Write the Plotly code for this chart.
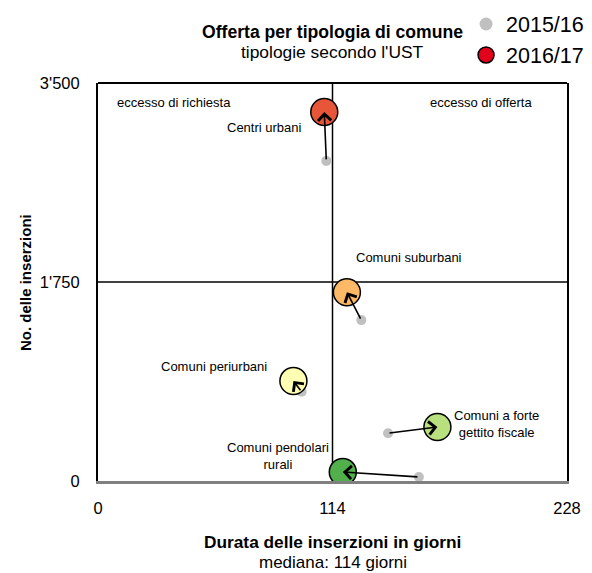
import plotly.graph_objects as go

# dati: durata mediana (giorni) e numero di inserzioni
tipologie = ["Centri urbani", "Comuni suburbani", "Comuni periurbani",
             "Comuni a forte<br>gettito fiscale", "Comuni pendolari<br>rurali"]
durata_1516 = [111, 128, 99, 141, 156]
inserz_1516 = [2815, 1415, 785, 420, 35]
durata_1617 = [110, 121, 95, 165, 119]
inserz_1617 = [3245, 1660, 880, 475, 80]
colori = ["#E8563A", "#FDB966", "#FFFFB3", "#B8E07F", "#52B04C"]

mediana_durata = 114
mediana_inserz = 1750
x_ticks = [0, 114, 228]
y_ticks = [0, 1750, 3500]
y_ticktext = ["0", "1'750", "3'500"]

# posizione delle etichette rispetto al punto 2016/17 (pixel)
label_pos = [(-20, -15, "right"), (62, 35, "center"), (-24, 14, "right"),
             (15, 3, "left"), (-12, 16, "right")]

FONT = "Liberation Sans, Arial, sans-serif"

fig = go.Figure()

# mediane
fig.add_shape(type="line", x0=mediana_durata, x1=mediana_durata, y0=0, y1=3500,
              xref="x", yref="y", line=dict(color="black", width=1.5), layer="below")
fig.add_shape(type="line", x0=0, x1=228, y0=mediana_inserz, y1=mediana_inserz,
              xref="x", yref="y", line=dict(color="black", width=1.5), layer="below")
# bordo superiore
fig.add_shape(type="line", x0=0, x1=1, y0=1, y1=1, xref="x domain", yref="y domain",
              line=dict(color="black", width=2))

fig.add_trace(go.Scatter(
    x=durata_1516, y=inserz_1516, mode="markers", showlegend=False,
    marker=dict(color="#C0C0C0", size=10, line=dict(width=0)),
    hoverinfo="skip"))
fig.add_trace(go.Scatter(
    x=durata_1617, y=inserz_1617, mode="markers", showlegend=False,
    marker=dict(color=colori, size=27, line=dict(color="black", width=1.5)),
    text=tipologie, hovertemplate="%{text}<br>%{x}, %{y}<extra></extra>"))
# voci di legenda
fig.add_trace(go.Scatter(
    x=[None], y=[None], mode="markers", name="2015/16",
    marker=dict(color="#C0C0C0", size=13, line=dict(width=0))))
fig.add_trace(go.Scatter(
    x=[None], y=[None], mode="markers", name="2016/17",
    marker=dict(color="#E2001A", size=17, line=dict(color="black", width=1.5))))

for i, nome in enumerate(tipologie):
    fig.add_annotation(
        x=durata_1617[i], y=inserz_1617[i], ax=durata_1516[i], ay=inserz_1516[i],
        xref="x", yref="y", axref="x", ayref="y", text="", showarrow=True,
        arrowhead=4, arrowsize=1.6, arrowwidth=1.6, arrowcolor="black", standoff=0)
    dx, dy, anchor = label_pos[i]
    fig.add_annotation(
        x=durata_1617[i], y=inserz_1617[i], xref="x", yref="y", text=nome,
        showarrow=False, xanchor=anchor, yanchor="middle", align="center",
        xshift=dx, yshift=dy, font=dict(size=13, color="black"))

fig.add_annotation(x=0.036, y=0.952, xref="x domain", yref="y domain", text="eccesso di richiesta",
                   showarrow=False, xanchor="left", yanchor="middle", font=dict(size=13))
fig.add_annotation(x=0.704, y=0.952, xref="x domain", yref="y domain", text="eccesso di offerta",
                   showarrow=False, xanchor="left", yanchor="middle", font=dict(size=13))

# titoli
fig.add_annotation(x=0.5, y=1.128, xref="x domain", yref="y domain",
                   text="<b>Offerta per tipologia di comune</b>", showarrow=False,
                   yanchor="middle", font=dict(size=17.6))
fig.add_annotation(x=0.5, y=1.078, xref="x domain", yref="y domain",
                   text="tipologie secondo l'UST", showarrow=False,
                   yanchor="middle", font=dict(size=17.4))
fig.add_annotation(x=0.5, y=-0.153, xref="x domain", yref="y domain",
                   text="<b>Durata delle inserzioni in giorni</b>", showarrow=False,
                   yanchor="middle", font=dict(size=17.3))
fig.add_annotation(x=0.5, y=-0.206, xref="x domain", yref="y domain",
                   text="mediana: 114 giorni", showarrow=False,
                   yanchor="middle", font=dict(size=17))
fig.add_annotation(x=-0.1557, y=0.5, xref="x domain", yref="y domain",
                   text="<b>No. delle inserzioni</b>", showarrow=False, textangle=-90,
                   xanchor="center", yanchor="middle", font=dict(size=15))

fig.update_xaxes(range=[0, 228], tickvals=x_ticks, showgrid=False, zeroline=False,
                 showline=True, linecolor="#808080", linewidth=2.5,
                 ticklabelstandoff=10, tickfont=dict(size=16.5))
fig.update_yaxes(range=[0, 3500], tickvals=y_ticks, ticktext=y_ticktext,
                 showgrid=False, zeroline=False, showline=True, mirror=True,
                 linecolor="black", linewidth=2, ticklabelstandoff=13,
                 tickfont=dict(size=16.5))

fig.update_layout(
    width=592, height=573,
    margin=dict(l=90, r=33, t=75, b=100, autoexpand=False),
    paper_bgcolor="white", plot_bgcolor="white",
    font=dict(family=FONT, color="black", size=13),
    showlegend=True,
    legend=dict(x=1.047, y=1.1997, xref="paper", yref="paper",
                xanchor="right", yanchor="top",
                font=dict(size=21.5), itemwidth=30,
                bgcolor="rgba(0,0,0,0)"),
)

fig.write_html("out.html")
